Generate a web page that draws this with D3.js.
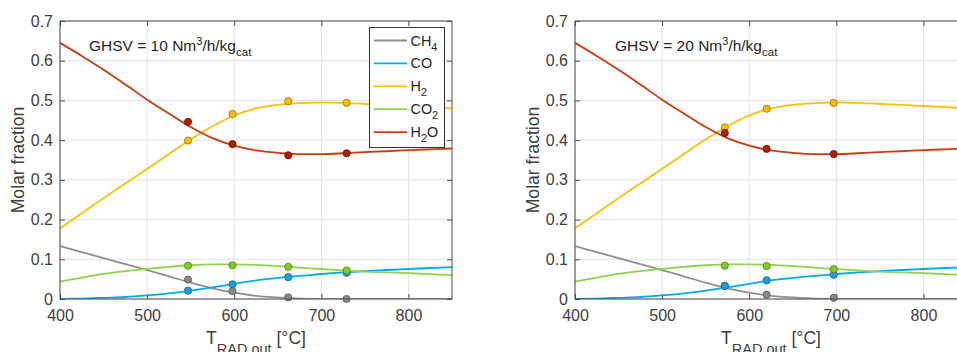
<!DOCTYPE html>
<html>
<head>
<meta charset="utf-8">
<script src="https://cdn.jsdelivr.net/npm/d3@7"></script>
<style>
  body { margin: 0; background: #fff; }
  svg text { font-family: "Liberation Sans", Arial, sans-serif; fill: #404040; }
</style>
</head>
<body>
<svg id="chart" width="957" height="352"></svg>
<script>
//Equilibrium curves (same for both space velocities)
var eqT   = [400, 425, 450, 475, 500, 525, 550, 575, 600, 625, 650, 675, 700, 725, 750, 775, 800, 825, 850];
var eqCH4 = [0.133, 0.118, 0.103, 0.088, 0.073, 0.057, 0.041, 0.027, 0.016, 0.008, 0.004, 0.001, 0, 0, 0, 0, 0, 0, 0];
var eqCO  = [0.000, 0.001, 0.003, 0.005, 0.009, 0.014, 0.021, 0.029, 0.038, 0.047, 0.053, 0.058, 0.063, 0.067, 0.070, 0.073, 0.0755, 0.078, 0.0805];
var eqH2  = [0.178, 0.216, 0.254, 0.291, 0.328, 0.365, 0.402, 0.435, 0.462, 0.480, 0.489, 0.493, 0.495, 0.494, 0.491, 0.489, 0.486, 0.483, 0.480];
var eqCO2 = [0.044, 0.054, 0.063, 0.070, 0.076, 0.081, 0.085, 0.087, 0.087, 0.086, 0.083, 0.079, 0.0755, 0.072, 0.069, 0.067, 0.065, 0.0625, 0.060];
var eqH2O = [0.645, 0.612, 0.577, 0.540, 0.502, 0.467, 0.433, 0.405, 0.386, 0.374, 0.368, 0.365, 0.365, 0.367, 0.370, 0.372, 0.375, 0.377, 0.379];

//Measured points, GHSV = 10
var exp10T   = [547, 598, 662, 729];
var exp10CH4 = [0.049, 0.020, 0.004, 0.000];
var exp10CO  = [0.021, 0.037, 0.055, 0.066];
var exp10H2  = [0.399, 0.466, 0.498, 0.494];
var exp10CO2 = [0.084, 0.085, 0.081, 0.072];
var exp10H2O = [0.446, 0.390, 0.362, 0.367];

//Measured points, GHSV = 20
var exp20T   = [572, 620, 697];
var exp20CH4 = [0.033, 0.011, 0.003];
var exp20CO  = [0.033, 0.047, 0.061];
var exp20H2  = [0.432, 0.479, 0.494];
var exp20CO2 = [0.084, 0.083, 0.075];
var exp20H2O = [0.418, 0.378, 0.365];

var speciesMain = ["CH", "CO", "H", "CO", "H"];
var speciesSub  = ["4", "", "2", "2", "2"];
var speciesTail = ["", "", "", "", "O"];
var xTicks = [400, 500, 600, 700, 800];
var yTicks = [0, 0.1, 0.2, 0.3, 0.4, 0.5, 0.6, 0.7];

var lineColors   = ["#8f8f8f", "#00aaf0", "#ffc000", "#92d050", "#cc3a10"];
var markerFill   = ["#8a8a8a", "#1c9ee0", "#ffbf00", "#7fcc2a", "#b01e00"];
var markerStroke = ["#555555", "#0b5f8f", "#8f6f00", "#4a8512", "#6a1000"];

var svg = d3.select("svg#chart");
var top0 = 21, bottom0 = 299, plotW = 392;

function drawPanel(id, left, expT, expSeries, noteX, ghsv, showLegend) {
  var eqSeries = [eqCH4, eqCO, eqH2, eqCO2, eqH2O];

  var x = d3.scaleLinear().domain([400, 850]).range([left, left + plotW]);
  var y = d3.scaleLinear().domain([0, 0.7]).range([bottom0, top0]);

  var g = svg.append("g");

  g.append("clipPath").attr("id", "clip" + id)
    .append("rect")
      .attr("x", left).attr("y", top0)
      .attr("width", plotW).attr("height", bottom0 - top0);

  //Grid
  g.selectAll(".vgrid").data(xTicks).enter().append("line")
      .attr("x1", function (d) { return x(d); }).attr("x2", function (d) { return x(d); })
      .attr("y1", top0).attr("y2", bottom0)
      .style("stroke", "#e3e3e3").style("stroke-width", 1);
  g.selectAll(".hgrid").data(yTicks).enter().append("line")
      .attr("x1", left).attr("x2", left + plotW)
      .attr("y1", function (d) { return y(d); }).attr("y2", function (d) { return y(d); })
      .style("stroke", "#e3e3e3").style("stroke-width", 1);

  //Axes with inward ticks on all four sides
  var axB = g.append("g").attr("transform", "translate(0," + bottom0 + ")")
    .call(d3.axisBottom(x).tickValues(xTicks).tickSize(-5).tickPadding(11));
  var axT = g.append("g").attr("transform", "translate(0," + top0 + ")")
    .call(d3.axisTop(x).tickValues(xTicks).tickSize(-5).tickFormat(""));
  var axL = g.append("g").attr("transform", "translate(" + left + ",0)")
    .call(d3.axisLeft(y).tickValues(yTicks).tickSize(-5).tickPadding(7)
      .tickFormat(function (d) { return d === 0 ? "0" : d3.format(".1f")(d); }));
  var axR = g.append("g").attr("transform", "translate(" + (left + plotW) + ",0)")
    .call(d3.axisRight(y).tickValues(yTicks).tickSize(-5).tickFormat(""));
  [axB, axT, axL, axR].forEach(function (a) {
    a.select(".domain").remove();
    a.selectAll(".tick line").style("stroke", "#4d4d4d");
    a.selectAll("text").style("font-size", "16px").style("fill", "#404040")
      .style("font-family", '"Liberation Sans", Arial, sans-serif');
  });

  //Equilibrium lines
  var line = d3.line()
    .x(function (d) { return x(d[0]); })
    .y(function (d) { return y(d[1]); })
    .curve(d3.curveMonotoneX);
  var lines = g.append("g").attr("clip-path", "url(#clip" + id + ")");
  eqSeries.forEach(function (s, k) {
    lines.append("path")
      .datum(eqT.map(function (t, i) { return [t, s[i]]; }))
      .attr("d", line)
      .style("fill", "none")
      .style("stroke", lineColors[k])
      .style("stroke-width", 1.8);
  });

  //Measured points
  expSeries.forEach(function (s, k) {
    g.selectAll(".pt" + k).data(expT.map(function (t, i) { return [t, s[i]]; }))
      .enter().append("circle")
        .attr("cx", function (d) { return x(d[0]); })
        .attr("cy", function (d) { return y(d[1]); })
        .attr("r", 3.6)
        .style("fill", markerFill[k])
        .style("stroke", markerStroke[k])
        .style("stroke-width", 0.8);
  });

  //Frame
  g.append("rect")
      .attr("x", left).attr("y", top0)
      .attr("width", plotW).attr("height", bottom0 - top0)
      .style("fill", "none").style("stroke", "#4d4d4d").style("stroke-width", 1);

  //Annotation
  var note = g.append("text").attr("x", noteX).attr("y", 51)
      .style("font-size", "15.5px").style("fill", "#262626");
  note.append("tspan").text("GHSV = " + ghsv + " Nm");
  note.append("tspan").attr("dy", -6).style("font-size", "11px").text("3");
  note.append("tspan").attr("dy", 6).text("/h/kg");
  note.append("tspan").attr("dy", 5).style("font-size", "11.5px").text("cat");

  //Axis labels
  var cx = left + plotW / 2;
  var xl = g.append("text").attr("x", cx).attr("y", 344)
      .attr("text-anchor", "middle").style("font-size", "17.6px");
  xl.append("tspan").text("T");
  xl.append("tspan").attr("dy", 10).style("font-size", "14.5px").text("RAD,out");
  xl.append("tspan").attr("dy", -10).text(" [°C]");

  g.append("text")
      .attr("transform", "translate(" + (left - 36) + "," + ((top0 + bottom0) / 2) + ") rotate(-90)")
      .attr("text-anchor", "middle")
      .style("font-size", "17.6px")
      .text("Molar fraction");

  if (showLegend) {
    var lg = g.append("g");
    lg.append("rect")
        .attr("x", 369.5).attr("y", 27.5).attr("width", 75).attr("height", 120)
        .style("fill", "#fff").style("stroke", "#333").style("stroke-width", 1);
    speciesMain.forEach(function (m, k) {
      var yy = 40.5 + k * 22.9;
      lg.append("line")
          .attr("x1", 374).attr("x2", 407).attr("y1", yy).attr("y2", yy)
          .style("stroke", lineColors[k]).style("stroke-width", 1.8);
      var t = lg.append("text").attr("x", 410.5).attr("y", yy + 5)
          .style("font-size", "14.4px").style("fill", "#262626");
      t.append("tspan").text(m);
      if (speciesSub[k]) {
        t.append("tspan").attr("dy", 5).style("font-size", "11px").text(speciesSub[k]);
      }
      if (speciesTail[k]) {
        t.append("tspan").attr("dy", -5).text(speciesTail[k]);
      }
    });
  }
}

drawPanel(1, 60, exp10T, [exp10CH4, exp10CO, exp10H2, exp10CO2, exp10H2O], 89, 10, true);
drawPanel(2, 575, exp20T, [exp20CH4, exp20CO, exp20H2, exp20CO2, exp20H2O], 615, 20, false);
</script>
</body>
</html>
